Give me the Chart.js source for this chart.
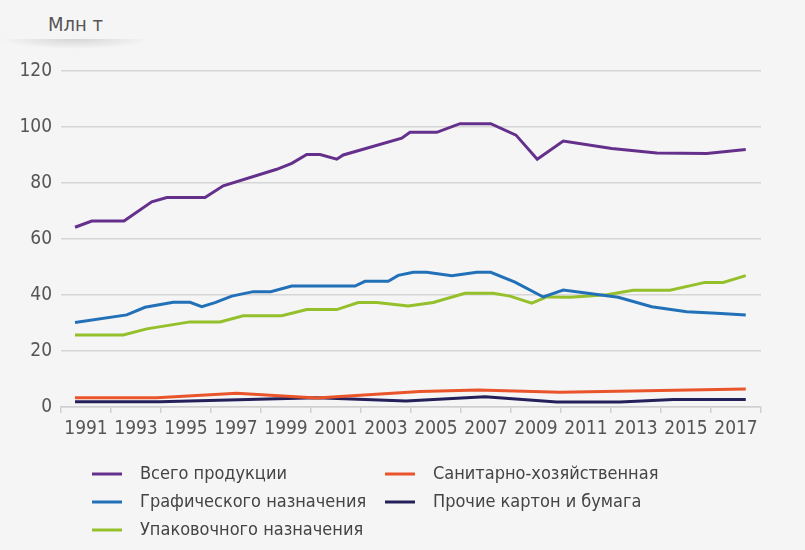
<!DOCTYPE html>
<html>
<head>
<meta charset="utf-8">
<script src="https://cdn.jsdelivr.net/npm/chart.js@4.4.1/dist/chart.umd.min.js"></script>
<style>
  body { margin: 0; background: #f5f5f5; }
  #wrap { position: relative; width: 805px; height: 550px; background: #f5f5f5; }
  #unit { position: absolute; left: 48px; top: 12px; color: #555;
          font: 20px 'DejaVu Sans Condensed', sans-serif; }
  #shade { position: absolute; left: 0; top: 39px; width: 150px; height: 10px;
           background: radial-gradient(ellipse 50% 100% at 50% 0%, rgba(0,0,0,0.13), rgba(0,0,0,0)); }
  canvas { position: absolute; left: 0; top: 0; }
</style>
</head>
<body>
<div id="wrap">
  <div id="unit">Млн т</div>
  <div id="shade"></div>
  <canvas id="paper" width="805" height="550"></canvas>
</div>
<script>
const FONT = "'DejaVu Sans Condensed', sans-serif";

// x labels shown under the axis
const yearLabels = ['1991','1993','1995','1997','1999','2001','2003','2005','2007','2009','2011','2013','2015','2017'];

// values (x = position on the year axis, y = mln t)
const totalX = [1990.56,1991.23,1992.52,1993.63,1994.23,1995.76,1996.49,1998.63,1999.23,1999.83,2000.36,2001.03,2001.29,2003.63,2003.96,2005.03,2005.96,2007.19,2008.2,2009.05,2010.09,2012.03,2013.83,2015.83,2017.39];
const totalY = [64.2,66.4,66.4,73.3,74.8,74.8,79.0,84.9,87.0,90.2,90.2,88.5,90.0,96.0,98.1,98.1,101.2,101.2,97.1,88.5,95.0,92.3,90.7,90.5,92.0];

const graphicX = [1990.56,1992.63,1993.36,1994.49,1995.16,1995.63,1996.16,1996.83,1997.69,1998.39,1999.23,2001.76,2002.16,2003.09,2003.49,2004.09,2004.63,2005.63,2006.63,2007.19,2008.16,2009.29,2010.09,2012.29,2013.63,2015.03,2016.23,2017.39];
const graphicY = [30.2,32.9,35.6,37.4,37.4,35.8,37.3,39.6,41.2,41.2,43.2,43.2,44.9,44.9,47.0,48.1,48.1,46.9,48.1,48.1,44.6,39.3,41.8,39.2,35.8,34.0,33.5,32.9];

const packX = [1990.56,1992.49,1993.43,1995.16,1996.36,1997.29,1998.83,1999.83,2001.03,2001.89,2002.63,2003.89,2004.89,2006.16,2007.29,2007.96,2008.83,2009.43,2010.36,2011.83,2012.89,2014.36,2015.76,2016.49,2017.39];
const packY = [25.7,25.7,27.9,30.4,30.4,32.6,32.6,34.8,34.8,37.3,37.3,36.1,37.3,40.6,40.6,39.6,37.1,39.3,39.2,40.1,41.7,41.7,44.5,44.5,46.9];

const sanitaryX = [1990.56,1993.83,1997.03,2000.23,2004.36,2006.69,2009.96,2017.39];
const sanitaryY = [3.3,3.3,4.9,3.2,5.5,6.1,5.3,6.4];

const otherX = [1990.56,1993.96,2000.23,2003.8,2006.96,2009.83,2012.36,2014.49,2017.39];
const otherY = [1.9,1.9,3.3,2.1,3.7,1.8,1.8,2.7,2.7];

const pts = (xs, ys) => xs.map((x, i) => ({ x: x, y: ys[i] }));

const line = (label, xs, ys, color) => ({
  label: label, data: pts(xs, ys), borderColor: color, backgroundColor: color,
  borderWidth: 3, pointRadius: 0, tension: 0, fill: false
});

const datasets = [
  line('Всего продукции', totalX, totalY, '#65308c'),
  line('Графического назначения', graphicX, graphicY, '#2271b8'),
  line('Упаковочного назначения', packX, packY, '#93c02b'),
  line('Санитарно-хозяйственная', sanitaryX, sanitaryY, '#e9542a'),
  line('Прочие картон и бумага', otherX, otherY, '#23205a')
];

// legend in two columns, as in the original
const legendPlugin = {
  id: 'twoColLegend',
  afterDraw(chart) {
    const c = chart.ctx;
    const cols = [92, 385];
    const rows = [474, 502, 530];
    const order = [[0, 0, 0], [1, 0, 1], [2, 0, 2], [3, 1, 0], [4, 1, 1]];
    c.save();
    c.font = '18px ' + FONT;
    c.textBaseline = 'middle';
    c.fillStyle = '#444';
    order.forEach(([di, col, row]) => {
      const ds = chart.data.datasets[di];
      const x = cols[col], y = rows[row];
      c.strokeStyle = ds.borderColor;
      c.lineWidth = 3;
      c.beginPath(); c.moveTo(x, y); c.lineTo(x + 30, y); c.stroke();
      c.fillText(ds.label, x + 48, y);
    });
    c.restore();
  }
};

new Chart(document.getElementById('paper'), {
  type: 'line',
  data: { datasets: datasets },
  plugins: [legendPlugin],
  options: {
    responsive: false,
    animation: false,
    layout: { padding: { top: 71, right: 44, bottom: 103, left: 0 } },
    plugins: { legend: { display: false }, tooltip: { enabled: false } },
    scales: {
      x: {
        type: 'linear', min: 1990, max: 2018,
        afterBuildTicks(scale) {
          scale.ticks = yearLabels.map(l => ({ value: +l - 1 })).concat([{ value: 2018 }]);
        },
        afterFit(scale) { scale.height = 40; },
        grid: { drawOnChartArea: false, drawTicks: true, tickLength: 6, color: '#cfcfcf', lineWidth: 1.5 },
        border: { display: true, color: '#cfcfcf', width: 1.5 },
        ticks: {
          autoSkip: false, maxRotation: 0, labelOffset: 25, padding: 5,
          color: '#555', font: { family: FONT, size: 19 },
          callback: (v, i) => yearLabels[i] || ''
        }
      },
      y: {
        min: 0, max: 120,
        afterFit(scale) { scale.width = 61; },
        grid: { color: '#d6d6d6', lineWidth: 1.5, drawTicks: false },
        border: { display: false },
        ticks: { stepSize: 20, padding: 9, color: '#555', font: { family: FONT, size: 19 } }
      }
    }
  }
});
</script>
</body>
</html>
